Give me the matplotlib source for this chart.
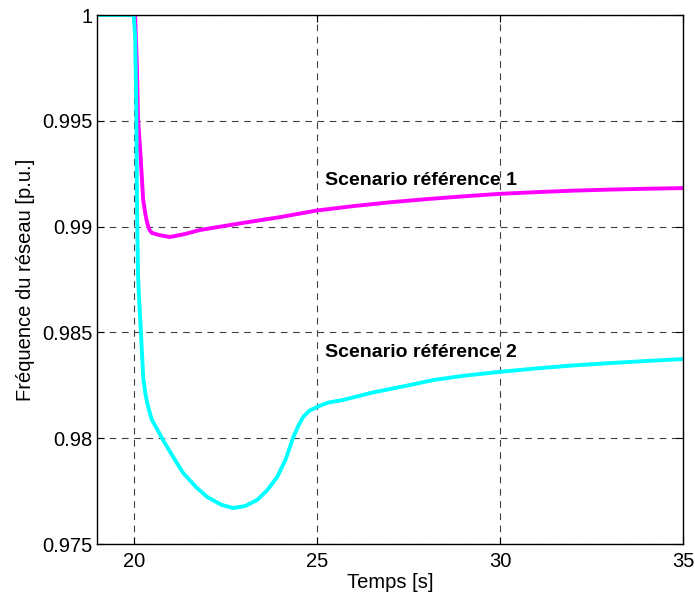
import numpy as np
import matplotlib.pyplot as plt
from matplotlib.ticker import FuncFormatter

plt.rcParams['font.family'] = ['Liberation Sans', 'DejaVu Sans']

# scenario 1 (magenta)
t1 = [19, 20.0, 20.04, 20.09, 20.12, 20.19, 20.26, 20.32, 20.37, 20.43, 20.50, 20.7, 20.99,
      21.4, 21.81, 23, 24, 25, 26, 27, 28, 29, 30, 31, 32, 33, 34, 35]
f1 = [1.0, 1.0, 1.0, 0.9975, 0.9951, 0.9933, 0.99126, 0.99060, 0.99017, 0.98985, 0.98970, 0.98960, 0.98951,
      0.98965, 0.98984, 0.99018, 0.99045, 0.99076, 0.99097, 0.99115, 0.99130, 0.99143, 0.99155,
      0.99163, 0.99170, 0.99175, 0.99179, 0.99182]

# scenario 2 (cyan)
t2 = [19, 20.0, 20.04, 20.07, 20.09, 20.12, 20.16, 20.20, 20.26, 20.32, 20.37, 20.45, 20.50, 20.65,
      20.80, 21.08, 21.35, 21.7, 22.01, 22.4, 22.72, 23.05, 23.37, 23.65, 23.92, 24.15, 24.36,
      24.5, 24.63, 24.8, 25.01, 25.3, 25.72, 26.5, 27.5, 28.18, 29, 29.96, 31, 32, 33, 34, 35]
f2 = [1.0, 1.0, 0.9990, 0.9960, 0.99126, 0.98762, 0.9862, 0.98497, 0.98289, 0.98210, 0.98167,
      0.98115, 0.98086, 0.98040, 0.97992, 0.97911, 0.97836, 0.97770, 0.97722, 0.97685, 0.97670,
      0.97680, 0.97708, 0.97755, 0.97817, 0.97900, 0.98006, 0.98060, 0.98101, 0.98130, 0.98148,
      0.98168, 0.98181, 0.98215, 0.98250, 0.98275, 0.98295, 0.98313, 0.98330, 0.98344, 0.98355,
      0.98365, 0.98374]

labels = ["Scenario référence 1", "Scenario référence 2"]
label_pos = [(25.23, 0.99220), (25.23, 0.98407)]

fig = plt.figure(figsize=(6.95, 5.96), dpi=100)
ax = fig.add_axes([0.1396, 0.0872, 0.8432, 0.8876])

ax.plot(t1, f1, color='#ff00ff', lw=2.8, solid_joinstyle='round')
ax.plot(t2, f2, color='#00ffff', lw=2.8, solid_joinstyle='round')

for txt, (x, y) in zip(labels, label_pos):
    ax.text(x, y, txt, fontsize=14, fontweight='bold', va='center', ha='left')

ax.set_xlim(19, 35)
ax.set_ylim(0.975, 1.0)
ax.set_xticks([20, 25, 30, 35])
ax.set_yticks([0.975, 0.98, 0.985, 0.99, 0.995, 1.0])
ax.yaxis.set_major_formatter(FuncFormatter(lambda v, p: '%g' % round(v, 4)))
ax.tick_params(direction='in', labelsize=14.5, length=5, width=0.8, top=True, right=True)
ax.tick_params(axis='x', pad=6)
ax.grid(True, color='#404040', lw=0.8, linestyle=(0, (6, 5)))
for s in ax.spines.values():
    s.set_linewidth(1.0)

ax.set_xlabel("Temps [s]", fontsize=14.5, labelpad=1)
ax.set_ylabel("Fréquence du réseau [p.u.]", fontsize=14.5, labelpad=5)

fig.savefig("out.png", dpi=100)
